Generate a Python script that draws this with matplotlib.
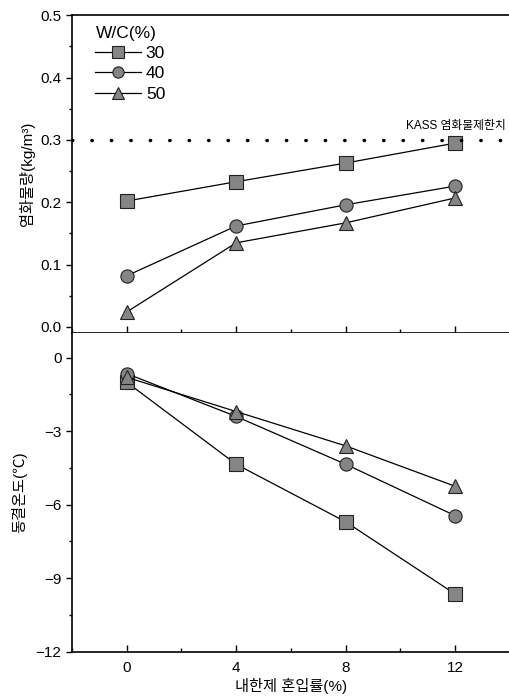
import matplotlib
matplotlib.use('Agg')
from matplotlib import pyplot as plt
from matplotlib.ticker import MultipleLocator

plt.rcParams['font.family'] = ['Liberation Sans', 'Noto Sans CJK KR', 'DejaVu Sans']
plt.rcParams['font.size'] = 11
plt.rcParams['axes.unicode_minus'] = True

# 내한제 혼입률 (%)
dosage = [0, 4, 8, 12]
wc_labels = ['30', '40', '50']
markers = ['s', 'o', '^']

# 염화물량 (kg/m3)
chloride_30 = [0.202, 0.233, 0.263, 0.295]
chloride_40 = [0.082, 0.162, 0.196, 0.226]
chloride_50 = [0.024, 0.135, 0.167, 0.207]
kass_limit = 0.3

# 동결온도 (℃)
freeze_30 = [-1.0, -4.35, -6.7, -9.65]
freeze_40 = [-0.65, -2.4, -4.35, -6.45]
freeze_50 = [-0.8, -2.2, -3.6, -5.25]


def style_axis(ax):
    ax.spines['right'].set_visible(False)
    for s in ['left', 'bottom', 'top']:
        ax.spines[s].set_linewidth(1.2)
    ax.set_xlim(-2, 14)
    ax.xaxis.set_major_locator(MultipleLocator(4))
    ax.xaxis.set_minor_locator(MultipleLocator(2))
    ax.tick_params(axis='x', which='both', direction='in', top=False, pad=7)
    ax.tick_params(axis='x', which='major', length=5, width=1)
    ax.tick_params(axis='x', which='minor', length=3, width=1)
    ax.tick_params(axis='y', which='major', direction='out', length=4, width=1)
    ax.tick_params(axis='y', which='minor', direction='out', length=2, width=1)


fig = plt.figure(figsize=(5.1, 6.97), dpi=100)
ax1 = fig.add_axes([0.141, 0.522, 0.859, 0.456])
ax2 = fig.add_axes([0.141, 0.065, 0.859, 0.457])

kw = dict(color='black', linewidth=0.9, markersize=9.5, markerfacecolor='#858585',
          markeredgecolor='#222222', markeredgewidth=0.8)

handles = []
for vals, m, lab in zip([chloride_30, chloride_40, chloride_50], markers, wc_labels):
    h, = ax1.plot(dosage, vals, marker=m, label=lab, **kw)
    handles.append(h)
ax1.axhline(kass_limit, color='black', linewidth=2.5, linestyle=(0, (0.1, 5.5)),
            dash_capstyle='round')
ax1.text(13.85, 0.313, 'KASS 염화물제한치', ha='right', va='bottom', fontsize=8.5)

style_axis(ax1)
ax1.set_ylim(-0.01, 0.5)
ax1.yaxis.set_minor_locator(MultipleLocator(0.05))
ax1.set_yticks([0.0, 0.1, 0.2, 0.3, 0.4, 0.5])
ax1.set_yticklabels(['0.0', '0.1', '0.2', '0.3', '0.4', '0.5'])
ax1.tick_params(axis='x', labelbottom=False)
ax1.set_ylabel('염화물량(kg/m³)', fontsize=11, labelpad=4)

leg = ax1.legend(handles=handles, title='W/C(%)', loc='upper left', frameon=False,
                 bbox_to_anchor=(0.03, 1.0), handlelength=2.6, handletextpad=0.3,
                 labelspacing=0.3, borderaxespad=0.2, fontsize=12.5,
                 title_fontsize=12.5, markerscale=0.85)
leg._legend_box.align = 'left'

for vals, m in zip([freeze_30, freeze_40, freeze_50], markers):
    ax2.plot(dosage, vals, marker=m, **kw)

style_axis(ax2)
ax2.spines['top'].set_visible(False)
ax2.set_ylim(-12, 1)
ax2.set_yticks([0, -3, -6, -9, -12])
ax2.yaxis.set_minor_locator(MultipleLocator(1.5))
ax2.set_xticks(dosage)
ax2.set_ylabel('동결온도(℃)', fontsize=11, labelpad=6)
ax2.set_xlabel('내한제 혼입률(%)', fontsize=11, labelpad=2)

fig.savefig('out.png', dpi=100)
